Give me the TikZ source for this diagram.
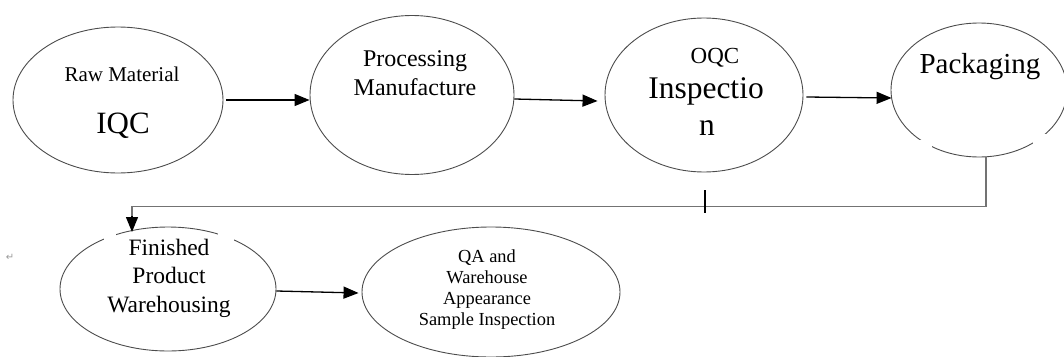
\documentclass[tikz,border=0pt]{standalone}
\usepackage{fontspec}
\setmainfont{Liberation Serif}
\newfontfamily\symfont{DejaVu Sans}
\usetikzlibrary{shapes.geometric,arrows.meta,calc}
\begin{document}
\begin{tikzpicture}[x=1pt,y=-1pt,
  ell/.style={ellipse,draw=black!70,line width=0.9pt,inner sep=0pt},
  lbl/.style={anchor=base,inner sep=0pt,align=center},
  arr/.style={line width=1.3pt,-{Triangle[length=15pt,width=12pt]}},
  conn/.style={draw=black!55,line width=1.3pt}]
\useasboundingbox (0,0) rectangle (1064,356);
% ellipses
\node[ell,minimum width=210pt,minimum height=146pt] (e1) at (118,100) {};
\node[ell,minimum width=204pt,minimum height=159pt] (e2) at (412,95) {};
\node[ell,minimum width=198pt,minimum height=154pt] (e3) at (704,95) {};
\node[ell,minimum width=176pt,minimum height=134pt] (e4) at (979,90) {};
\node[ell,minimum width=216pt,minimum height=124pt] (e5) at (168,289) {};
\node[ell,minimum width=258pt,minimum height=130pt] (e6) at (491,292) {};
% gaps in outlines
\fill[white] (915,140) rectangle (932,152);
\fill[white] (1033,134) rectangle (1047,152);
\fill[white] (104,226) rectangle (116,240);
\fill[white] (218,226) rectangle (234,242);
% texts
\node[lbl,font=\fontsize{21}{25}\selectfont] (t1a) at (122,81) {Raw Material};
\node[lbl,font=\fontsize{31}{36}\selectfont] (t1b) at (123,133) {IQC};
\node[lbl,font=\fontsize{24}{29}\selectfont] (t2a) at (415,66) {Processing};
\node[lbl,font=\fontsize{24}{29}\selectfont] (t2b) at (415,95) {Manufacture};
\node[lbl,font=\fontsize{23}{27}\selectfont] (t3a) at (715,63) {OQC};
\node[lbl,font=\fontsize{31.5}{36}\selectfont] (t3b) at (706,98) {Inspectio};
\node[lbl,font=\fontsize{31.5}{36}\selectfont] (t3c) at (707,135) {n};
\node[lbl,font=\fontsize{29}{34}\selectfont] (t4) at (980,73) {Packaging};
\node[lbl,font=\fontsize{23.5}{28}\selectfont] (t5a) at (169,255) {Finished};
\node[lbl,font=\fontsize{23.5}{28}\selectfont] (t5b) at (169,283) {Product};
\node[lbl,font=\fontsize{23.5}{28}\selectfont] (t5c) at (169,312) {Warehousing};
\node[lbl,font=\fontsize{18.4}{21}\selectfont] (t6a) at (487,262) {QA and};
\node[lbl,font=\fontsize{18.4}{21}\selectfont] (t6b) at (487,283) {Warehouse};
\node[lbl,font=\fontsize{18.4}{21}\selectfont] (t6c) at (487,304) {Appearance};
\node[lbl,font=\fontsize{18.4}{21}\selectfont] (t6d) at (487,325) {Sample Inspection};
% arrows
\draw[arr] ([xshift=3pt]e1.east |- 0,100) -- (e2.west |- 0,100);
\draw[arr] ($(e2.east)+(0,4)$) -- ($(e3.west)+(-7,6)$);
\draw[arr] ($(e3.east)+(3,2)$) -- ($(e4.west)+(1,8)$);
\draw[arr] ($(e5.east)+(0,2)$) -- ($(e6.west)+(-3,1)$);
% return connector
\coordinate (fin) at (132,232);
\draw[conn] ([xshift=7pt]e4.south) -- ++(0,49) -| ([yshift=14pt]fin);
\draw[arr,shorten <=-1pt] ([yshift=15pt]fin) -- (fin);
% artefacts
\draw[line width=2.4pt] (705,190) -- (705,213);
\node[font=\symfont\fontsize{10}{12}\selectfont,text=black!40,inner sep=0pt] (ret) at (10,257) {↵};
\end{tikzpicture}
\end{document}
